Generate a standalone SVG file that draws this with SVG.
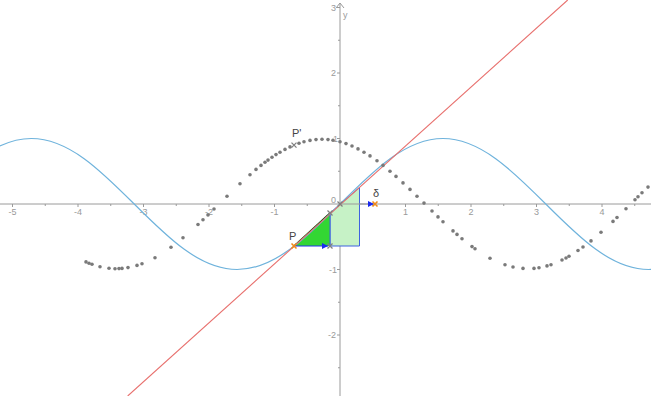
<svg xmlns="http://www.w3.org/2000/svg" width="651" height="396" viewBox="0 0 651 396">
<defs>
<style>
.ax{stroke:#9a9a9a;stroke-width:1;fill:none}
.tk{stroke:#9a9a9a;stroke-width:1}
.lbl{font-family:"Liberation Sans",Arial,sans-serif;font-size:9px;fill:#9a9a9a}
.name{font-family:"Liberation Sans",Arial,sans-serif;font-size:11px;fill:#444}
.dot{fill:#7a7a7a}
.xg{stroke:#808080;stroke-width:1.3}
.xo{stroke:#f08a1a;stroke-width:1.6}
.vec{stroke:#2233ee;stroke-width:1.2}
</style>
<marker id="ah" viewBox="0 0 10 10" refX="10" refY="5" markerWidth="6" markerHeight="6" markerUnits="userSpaceOnUse" orient="auto">
<path d="M0,0 L10,5 L0,10 z" fill="#1a2aee"/>
</marker>
</defs>
<rect width="651" height="396" fill="#ffffff"/>

<g id="axes">
<line class="ax" x1="0" y1="204" x2="651" y2="204"/>
<line class="ax" x1="340" y1="3" x2="340" y2="396"/>
<path class="ax" d="M336,8 L340,3 L344,8"/>
<g class="tk">
<line x1="12.5" y1="204" x2="12.5" y2="207"/><line x1="45.25" y1="204" x2="45.25" y2="206"/>
<line x1="78" y1="204" x2="78" y2="207"/><line x1="110.75" y1="204" x2="110.75" y2="206"/>
<line x1="143.5" y1="204" x2="143.5" y2="207"/><line x1="176.25" y1="204" x2="176.25" y2="206"/>
<line x1="209" y1="204" x2="209" y2="207"/><line x1="241.75" y1="204" x2="241.75" y2="206"/>
<line x1="274.5" y1="204" x2="274.5" y2="207"/><line x1="307.25" y1="204" x2="307.25" y2="206"/>
<line x1="372.75" y1="204" x2="372.75" y2="206"/><line x1="405.5" y1="204" x2="405.5" y2="207"/>
<line x1="438.25" y1="204" x2="438.25" y2="206"/><line x1="471" y1="204" x2="471" y2="207"/>
<line x1="503.75" y1="204" x2="503.75" y2="206"/><line x1="536.5" y1="204" x2="536.5" y2="207"/>
<line x1="569.25" y1="204" x2="569.25" y2="206"/><line x1="602" y1="204" x2="602" y2="207"/>
<line x1="634.75" y1="204" x2="634.75" y2="206"/>
<line x1="337" y1="7.5" x2="340" y2="7.5"/><line x1="338" y1="40.25" x2="340" y2="40.25"/>
<line x1="337" y1="73" x2="340" y2="73"/><line x1="338" y1="105.75" x2="340" y2="105.75"/>
<line x1="337" y1="138.5" x2="340" y2="138.5"/><line x1="338" y1="171.25" x2="340" y2="171.25"/>
<line x1="338" y1="236.75" x2="340" y2="236.75"/><line x1="337" y1="269.5" x2="340" y2="269.5"/>
<line x1="338" y1="302.25" x2="340" y2="302.25"/><line x1="337" y1="335" x2="340" y2="335"/>
<line x1="338" y1="367.75" x2="340" y2="367.75"/>
</g>
<g class="lbl" text-anchor="middle">
<text x="12.5" y="215">-5</text><text x="78" y="215">-4</text><text x="143.5" y="215">-3</text>
<text x="209" y="215">-2</text><text x="274.5" y="215">-1</text><text x="345" y="215">0</text>
<text x="405.5" y="215">1</text><text x="471" y="215">2</text><text x="536.5" y="215">3</text>
<text x="602" y="215">4</text>
</g>
<g class="lbl" text-anchor="end">
<text x="336" y="11">3</text><text x="336" y="76">2</text><text x="338" y="142">1</text>
<text x="336" y="203">0</text><text x="337" y="273">-1</text><text x="336" y="338">-2</text>
</g>
<text class="lbl" x="343" y="18">y</text>
</g>

<g id="area-light">
<polygon points="330,213 359.5,187.5 359.5,246 330,246" fill="#c6f2c6" stroke="#3f63e0" stroke-width="1"/>
</g>
<g id="triangle">
<polygon points="294,246 330,246 330,213" fill="#33d633" stroke="none"/>
<line x1="294" y1="246" x2="330" y2="213" stroke="#0b4a0b" stroke-width="1.5"/>
<line x1="330" y1="246" x2="330" y2="213" stroke="#3f63e0" stroke-width="1"/>
</g>

<g id="sine">
<path d="M-71.56,204 C-38,170.45 -5.91,138.5 31.33,138.5 C68.57,138.5 100.67,170.45 134.22,204 C167.78,237.56 199.87,269.5 237.11,269.5 C274.35,269.5 306.45,237.56 340,204 C373.56,170.45 405.65,138.5 442.89,138.5 C480.13,138.5 512.23,170.45 545.78,204 C579.34,237.56 611.43,269.5 648.67,269.5 C685.91,269.5 718,237.56 751.56,204" fill="none" stroke="#6fb3dc" stroke-width="1.2"/>
</g>

<g id="secant">
<line x1="127.7" y1="396" x2="567.7" y2="0" stroke="#e8706e" stroke-width="1.1"/>
</g>

<g id="trace">
<circle class="dot" cx="86" cy="261.9" r="1.8"/><circle class="dot" cx="89" cy="263.2" r="1.8"/><circle class="dot" cx="92" cy="264.3" r="1.8"/>
<circle class="dot" cx="100" cy="266.7" r="1.8"/><circle class="dot" cx="109" cy="268.3" r="1.8"/><circle class="dot" cx="115" cy="268.7" r="1.8"/>
<circle class="dot" cx="119" cy="268.6" r="1.8"/><circle class="dot" cx="122" cy="268.4" r="1.8"/><circle class="dot" cx="128" cy="267.6" r="1.8"/>
<circle class="dot" cx="137" cy="265.4" r="1.8"/><circle class="dot" cx="142" cy="263.7" r="1.8"/><circle class="dot" cx="155" cy="257.7" r="1.8"/>
<circle class="dot" cx="171" cy="247.3" r="1.8"/><circle class="dot" cx="183" cy="237.8" r="1.8"/><circle class="dot" cx="198" cy="224.5" r="1.8"/>
<circle class="dot" cx="203" cy="219.7" r="1.8"/><circle class="dot" cx="208" cy="214.9" r="1.8"/><circle class="dot" cx="214" cy="209" r="1.8"/>
<circle class="dot" cx="227" cy="196.2" r="1.8"/><circle class="dot" cx="240" cy="183.7" r="1.8"/><circle class="dot" cx="250" cy="174.7" r="1.8"/>
<circle class="dot" cx="256" cy="169.4" r="1.8"/><circle class="dot" cx="261" cy="165.4" r="1.8"/><circle class="dot" cx="265" cy="162.3" r="1.8"/>
<circle class="dot" cx="268" cy="160.1" r="1.8"/><circle class="dot" cx="272" cy="157.2" r="1.8"/><circle class="dot" cx="276" cy="154.6" r="1.8"/>
<circle class="dot" cx="280" cy="152.2" r="1.8"/><circle class="dot" cx="285" cy="149.4" r="1.8"/><circle class="dot" cx="290" cy="146.9" r="1.8"/>
<circle class="dot" cx="299" cy="143.3" r="1.8"/><circle class="dot" cx="304" cy="141.8" r="1.8"/><circle class="dot" cx="310" cy="140.4" r="1.8"/>
<circle class="dot" cx="316" cy="139.6" r="1.8"/><circle class="dot" cx="322" cy="139.3" r="1.8"/><circle class="dot" cx="328" cy="139.6" r="1.8"/>
<circle class="dot" cx="333" cy="140.2" r="1.8"/><circle class="dot" cx="340" cy="141.8" r="1.8"/><circle class="dot" cx="346" cy="143.6" r="1.8"/>
<circle class="dot" cx="352" cy="146" r="1.8"/><circle class="dot" cx="358" cy="148.9" r="1.8"/><circle class="dot" cx="364" cy="152.2" r="1.8"/>
<circle class="dot" cx="370" cy="155.9" r="1.8"/><circle class="dot" cx="377" cy="160.8" r="1.8"/><circle class="dot" cx="383" cy="165.4" r="1.8"/>
<circle class="dot" cx="390" cy="171.2" r="1.8"/><circle class="dot" cx="396" cy="176.4" r="1.8"/><circle class="dot" cx="403" cy="182.9" r="1.8"/>
<circle class="dot" cx="410" cy="189.4" r="1.8"/><circle class="dot" cx="417" cy="196.3" r="1.8"/><circle class="dot" cx="424" cy="203.1" r="1.8"/>
<circle class="dot" cx="432" cy="211" r="1.8"/><circle class="dot" cx="438" cy="216.9" r="1.8"/><circle class="dot" cx="443" cy="221.7" r="1.8"/>
<circle class="dot" cx="453" cy="230.9" r="1.8"/><circle class="dot" cx="457" cy="234.4" r="1.8"/><circle class="dot" cx="462" cy="238.7" r="1.8"/>
<circle class="dot" cx="472" cy="246.6" r="1.8"/><circle class="dot" cx="475" cy="248.8" r="1.8"/><circle class="dot" cx="490" cy="258.2" r="1.8"/>
<circle class="dot" cx="505" cy="264.8" r="1.8"/><circle class="dot" cx="513" cy="267" r="1.8"/><circle class="dot" cx="523" cy="268.4" r="1.8"/>
<circle class="dot" cx="534" cy="268.4" r="1.8"/><circle class="dot" cx="539" cy="267.7" r="1.8"/><circle class="dot" cx="547" cy="265.9" r="1.8"/>
<circle class="dot" cx="551" cy="264.7" r="1.8"/><circle class="dot" cx="562" cy="260" r="1.8"/><circle class="dot" cx="566" cy="258" r="1.8"/>
<circle class="dot" cx="569" cy="256.3" r="1.8"/><circle class="dot" cx="578" cy="250.5" r="1.8"/><circle class="dot" cx="583" cy="247" r="1.8"/>
<circle class="dot" cx="591" cy="240.9" r="1.8"/><circle class="dot" cx="601" cy="232.3" r="1.8"/><circle class="dot" cx="613" cy="221.4" r="1.8"/>
<circle class="dot" cx="617" cy="217.5" r="1.8"/><circle class="dot" cx="626" cy="208.7" r="1.8"/><circle class="dot" cx="635" cy="199.7" r="1.8"/>
<circle class="dot" cx="638" cy="196.8" r="1.8"/><circle class="dot" cx="642" cy="192.8" r="1.8"/><circle class="dot" cx="648" cy="187.1" r="1.8"/>
</g>

<g id="connectors">
<line class="vec" x1="294" y1="246" x2="328" y2="246" marker-end="url(#ah)"/>
<line x1="340" y1="204" x2="374" y2="204" stroke="#9a9a9a" stroke-width="1" marker-end="url(#ah)"/>
</g>

<g id="point-Pprime">
<path class="xg" d="M291.5,142.6 L296.5,147.6 M291.5,147.6 L296.5,142.6"/>
<text class="name" x="292" y="137">P'</text>
</g>
<g id="point-Q">
<path class="xg" d="M327.5,210.5 L332.5,215.5 M327.5,215.5 L332.5,210.5"/>
</g>
<g id="point-O">
<path class="xg" d="M337.5,201.5 L342.5,206.5 M337.5,206.5 L342.5,201.5"/>
</g>
<g id="point-R">
<path class="xg" d="M327.5,243.5 L332.5,248.5 M327.5,248.5 L332.5,243.5"/>
</g>
<g id="point-P">
<path class="xo" d="M291.5,243.5 L296.5,248.5 M291.5,248.5 L296.5,243.5"/>
<text class="name" x="289" y="240">P</text>
</g>
<g id="point-delta">
<path class="xo" d="M372.5,201.5 L377.5,206.5 M372.5,206.5 L377.5,201.5"/>
<text class="name" x="373" y="197">δ</text>
</g>
</svg>
